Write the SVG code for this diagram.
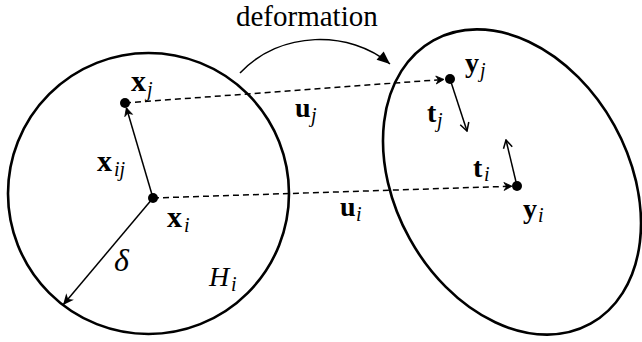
<svg xmlns="http://www.w3.org/2000/svg" width="642" height="342" viewBox="0 0 642 342">
<defs>
<style>
.outline{fill:none;stroke:#000;stroke-width:2.6}
.dot{fill:#000}
.ln{fill:none;stroke:#000;stroke-width:1.5}
.dash{fill:none;stroke:#000;stroke-width:1.5;stroke-dasharray:6 4}
.b{font-family:"Liberation Serif","DejaVu Serif",serif;font-weight:bold;font-size:28px;fill:#000}
.bx{font-size:30px}
.s{font-family:"Liberation Serif","DejaVu Serif",serif;font-style:italic;font-size:20px;fill:#000}
.it{font-family:"Liberation Serif","DejaVu Serif",serif;font-style:italic;fill:#000}
.title{font-family:"Liberation Serif","Times New Roman",serif;font-size:29px;fill:#000}
</style>
<marker id="stealth" markerUnits="userSpaceOnUse" viewBox="-10 -5 11 10" refX="0" refY="0" markerWidth="11" markerHeight="10" orient="auto">
<path d="M0,0 L-8,-4 L-5.5,0 L-8,4 z" fill="#000" stroke="#000" stroke-width="0.8" stroke-linejoin="round"/>
</marker>
<marker id="open" markerUnits="userSpaceOnUse" viewBox="-10 -6 11 12" refX="0" refY="0" markerWidth="11" markerHeight="12" orient="auto">
<path d="M-8,-4.5 L0,0 L-8,4.5" fill="none" stroke="#000" stroke-width="1.5"/>
</marker>
<marker id="bigstealth" markerUnits="userSpaceOnUse" viewBox="-13 -7 14 14" refX="0" refY="0" markerWidth="14" markerHeight="14" orient="auto">
<path d="M0,0 L-11,-5 L-8,0 L-11,5 z" fill="#000"/>
</marker>
<marker id="tri" markerUnits="userSpaceOnUse" viewBox="-15 -8 16 16" refX="0" refY="0" markerWidth="16" markerHeight="16" orient="auto">
<path d="M0,0 L-13,-5.5 L-13,5.5 z" fill="#000"/>
</marker>
</defs>
<rect width="642" height="342" fill="#fff"/>

<g id="region-H">
<circle class="outline" cx="148.5" cy="193.5" r="140.5"/>
<text class="it" x="209" y="286" font-size="28">H</text>
<text class="s" x="231" y="291">i</text>
</g>

<g id="region-deformed">
<ellipse class="outline" cx="0" cy="0" rx="162" ry="117" transform="translate(512,182) rotate(61)"/>
</g>

<g id="label-deformation">
<text class="title" x="236" y="26">deformation</text>
</g>

<g id="connectors">
<path class="ln" d="M240,73 C280,30 350,30 390,64" marker-end="url(#tri)"/>
<line class="dash" x1="125" y1="103" x2="444" y2="79.4" marker-end="url(#stealth)"/>
<line class="dash" x1="153" y1="198" x2="512" y2="186.2" marker-end="url(#stealth)"/>
<line class="ln" x1="153" y1="198" x2="126.4" y2="107.8" marker-end="url(#stealth)"/>
<line class="ln" x1="153" y1="198" x2="63" y2="305" marker-end="url(#bigstealth)"/>
<line class="ln" x1="450" y1="79" x2="467" y2="131" marker-end="url(#open)"/>
<line class="ln" x1="517" y1="186" x2="506" y2="140" marker-end="url(#open)"/>
</g>

<g id="node-xj">
<circle class="dot" cx="125" cy="103" r="5"/>
<text class="b bx" x="131" y="91">x</text>
<text class="s" x="147" y="96">j</text>
</g>

<g id="node-xi">
<circle class="dot" cx="153" cy="198" r="5"/>
<text class="b bx" x="167" y="227">x</text>
<text class="s" x="184" y="232">i</text>
</g>

<g id="label-xij">
<text class="b bx" x="97" y="171">x</text>
<text class="s" x="114" y="176">ij</text>
</g>

<g id="label-delta">
<text class="it" x="114" y="271" font-size="32">δ</text>
</g>

<g id="label-uj">
<text class="b" x="295" y="117">u</text>
<text class="s" x="311" y="122">j</text>
</g>

<g id="label-ui">
<text class="b" x="340" y="216">u</text>
<text class="s" x="356" y="221">i</text>
</g>

<g id="node-yj">
<circle class="dot" cx="450" cy="79" r="5"/>
<text class="b" x="465" y="72">y</text>
<text class="s" x="480" y="77">j</text>
</g>

<g id="node-yi">
<circle class="dot" cx="517" cy="186" r="5"/>
<text class="b" x="523" y="218">y</text>
<text class="s" x="538" y="222">i</text>
</g>

<g id="label-tj">
<text class="b" x="427" y="122">t</text>
<text class="s" x="437" y="127">j</text>
</g>

<g id="label-ti">
<text class="b" x="473" y="177">t</text>
<text class="s" x="484" y="181">i</text>
</g>
</svg>
